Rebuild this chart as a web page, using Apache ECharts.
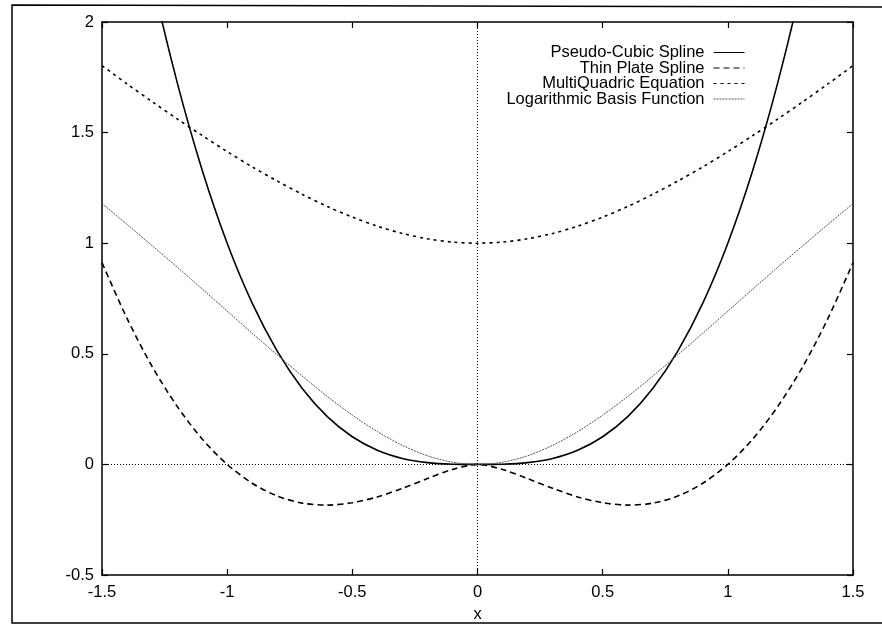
<!DOCTYPE html>
<html>
<head>
<meta charset="utf-8">
<script src="https://cdn.jsdelivr.net/npm/echarts@6/dist/echarts.min.js"></script>
<style>
  html, body { margin: 0; padding: 0; background: #fff; }
  #chart { width: 882px; height: 630px; }
</style>
</head>
<body>
<div id="chart"></div>
<script>
// Sample positions along x
const xs = [-1.5, -1.4, -1.3, -1.2, -1.1, -1.0, -0.9, -0.8, -0.7, -0.6, -0.5, -0.4, -0.3, -0.2, -0.1,
            0, 0.1, 0.2, 0.3, 0.4, 0.5, 0.6, 0.7, 0.8, 0.9, 1.0, 1.1, 1.2, 1.3, 1.4, 1.5];

// Basis function values at each x
const pseudoCubic = [3.375, 2.744, 2.197, 1.728, 1.331, 1.0, 0.729, 0.512, 0.343, 0.216, 0.125, 0.064, 0.027, 0.008, 0.001,
                     0, 0.001, 0.008, 0.027, 0.064, 0.125, 0.216, 0.343, 0.512, 0.729, 1.0, 1.331, 1.728, 2.197, 2.744, 3.375];
const thinPlate = [0.912, 0.66, 0.443, 0.263, 0.115, 0, -0.085, -0.143, -0.175, -0.184, -0.173, -0.147, -0.108, -0.064, -0.023,
                   0, -0.023, -0.064, -0.108, -0.147, -0.173, -0.184, -0.175, -0.143, -0.085, 0, 0.115, 0.263, 0.443, 0.66, 0.912];
const multiQuadric = [1.803, 1.72, 1.64, 1.562, 1.487, 1.414, 1.345, 1.281, 1.221, 1.166, 1.118, 1.077, 1.044, 1.02, 1.005,
                      1.0, 1.005, 1.02, 1.044, 1.077, 1.118, 1.166, 1.221, 1.281, 1.345, 1.414, 1.487, 1.562, 1.64, 1.72, 1.803];
const logBasis = [1.179, 1.085, 0.989, 0.892, 0.793, 0.693, 0.593, 0.495, 0.399, 0.307, 0.223, 0.148, 0.086, 0.039, 0.01,
                  0, 0.01, 0.039, 0.086, 0.148, 0.223, 0.307, 0.399, 0.495, 0.593, 0.693, 0.793, 0.892, 0.989, 1.085, 1.179];

const seriesNames = ['Pseudo-Cubic Spline', 'Thin Plate Spline', 'MultiQuadric Equation', 'Logarithmic Basis Function'];

const pairs = ys => xs.map((x, i) => [x, ys[i]]);

const FONT = '"Liberation Sans", Arial, Helvetica, sans-serif';
const FS = 16.5;

const chart = echarts.init(document.getElementById('chart'), null, { renderer: 'canvas' });

const axisCommon = {
  type: 'value',
  interval: 0.5,
  splitLine: { show: false },
  axisLine: { show: true, onZero: false, lineStyle: { color: '#000', width: 1.5 } },
  axisTick: { show: true, inside: true, length: 6, lineStyle: { color: '#000', width: 1.2 } },
  axisLabel: { color: '#000', fontFamily: FONT, fontSize: FS }
};

function lineSeries(name, data, style) {
  return {
    name: name,
    type: 'line',
    data: data,
    smooth: 0.3,
    symbol: 'none',
    clip: true,
    lineStyle: style,
    itemStyle: { color: style.color },
    emphasis: { disabled: true },
    animation: false
  };
}

const series = [
  lineSeries(seriesNames[0], pairs(pseudoCubic), { color: '#000', width: 1.6, type: 'solid' }),
  lineSeries(seriesNames[1], pairs(thinPlate), { color: '#000', width: 1.6, type: [6, 4] }),
  lineSeries(seriesNames[2], pairs(multiQuadric), { color: '#000', width: 1.6, type: [3, 4] }),
  lineSeries(seriesNames[3], pairs(logBasis), { color: '#555', width: 1, type: [2, 1] })
];

// Zero axes drawn as fine dotted lines
series[0].markLine = {
  silent: true,
  symbol: 'none',
  label: { show: false },
  lineStyle: { color: '#000', width: 1, type: [1, 2] },
  data: [{ xAxis: 0 }, { yAxis: 0 }],
  animation: false
};

chart.setOption({
  backgroundColor: '#fff',
  animation: false,
  grid: { left: 102, right: 29, top: 22, bottom: 55, containLabel: false },
  xAxis: [
    Object.assign({}, axisCommon, {
      min: -1.5, max: 1.5, position: 'bottom',
      name: 'x', nameLocation: 'middle', nameGap: 28,
      nameTextStyle: { color: '#000', fontFamily: FONT, fontSize: FS },
      axisLabel: Object.assign({}, axisCommon.axisLabel, { margin: 9 })
    }),
    Object.assign({}, axisCommon, {
      min: -1.5, max: 1.5, position: 'top',
      axisLabel: { show: false }
    })
  ],
  yAxis: [
    Object.assign({}, axisCommon, {
      min: -0.5, max: 2, position: 'left',
      axisLabel: Object.assign({}, axisCommon.axisLabel, { margin: 8 })
    }),
    Object.assign({}, axisCommon, {
      min: -0.5, max: 2, position: 'right',
      axisLabel: { show: false }
    })
  ],
  legend: {
    data: seriesNames,
    orient: 'vertical',
    align: 'right',
    right: 132,
    top: 39,
    itemWidth: 31,
    itemHeight: 10,
    itemGap: -1.5,
    selectedMode: false,
    itemStyle: { opacity: 0 },
    lineStyle: { width: 1 },
    textStyle: { color: '#000', fontFamily: FONT, fontSize: FS, lineHeight: 15, padding: [0, 4, 0, 0] }
  },
  graphic: [{
    type: 'polyline',
    silent: true,
    shape: { points: [[900, 7], [12, 5], [12, 623], [900, 623]] },
    style: { stroke: '#000', lineWidth: 1.5, fill: null }
  }],
  series: series
});
</script>
</body>
</html>
